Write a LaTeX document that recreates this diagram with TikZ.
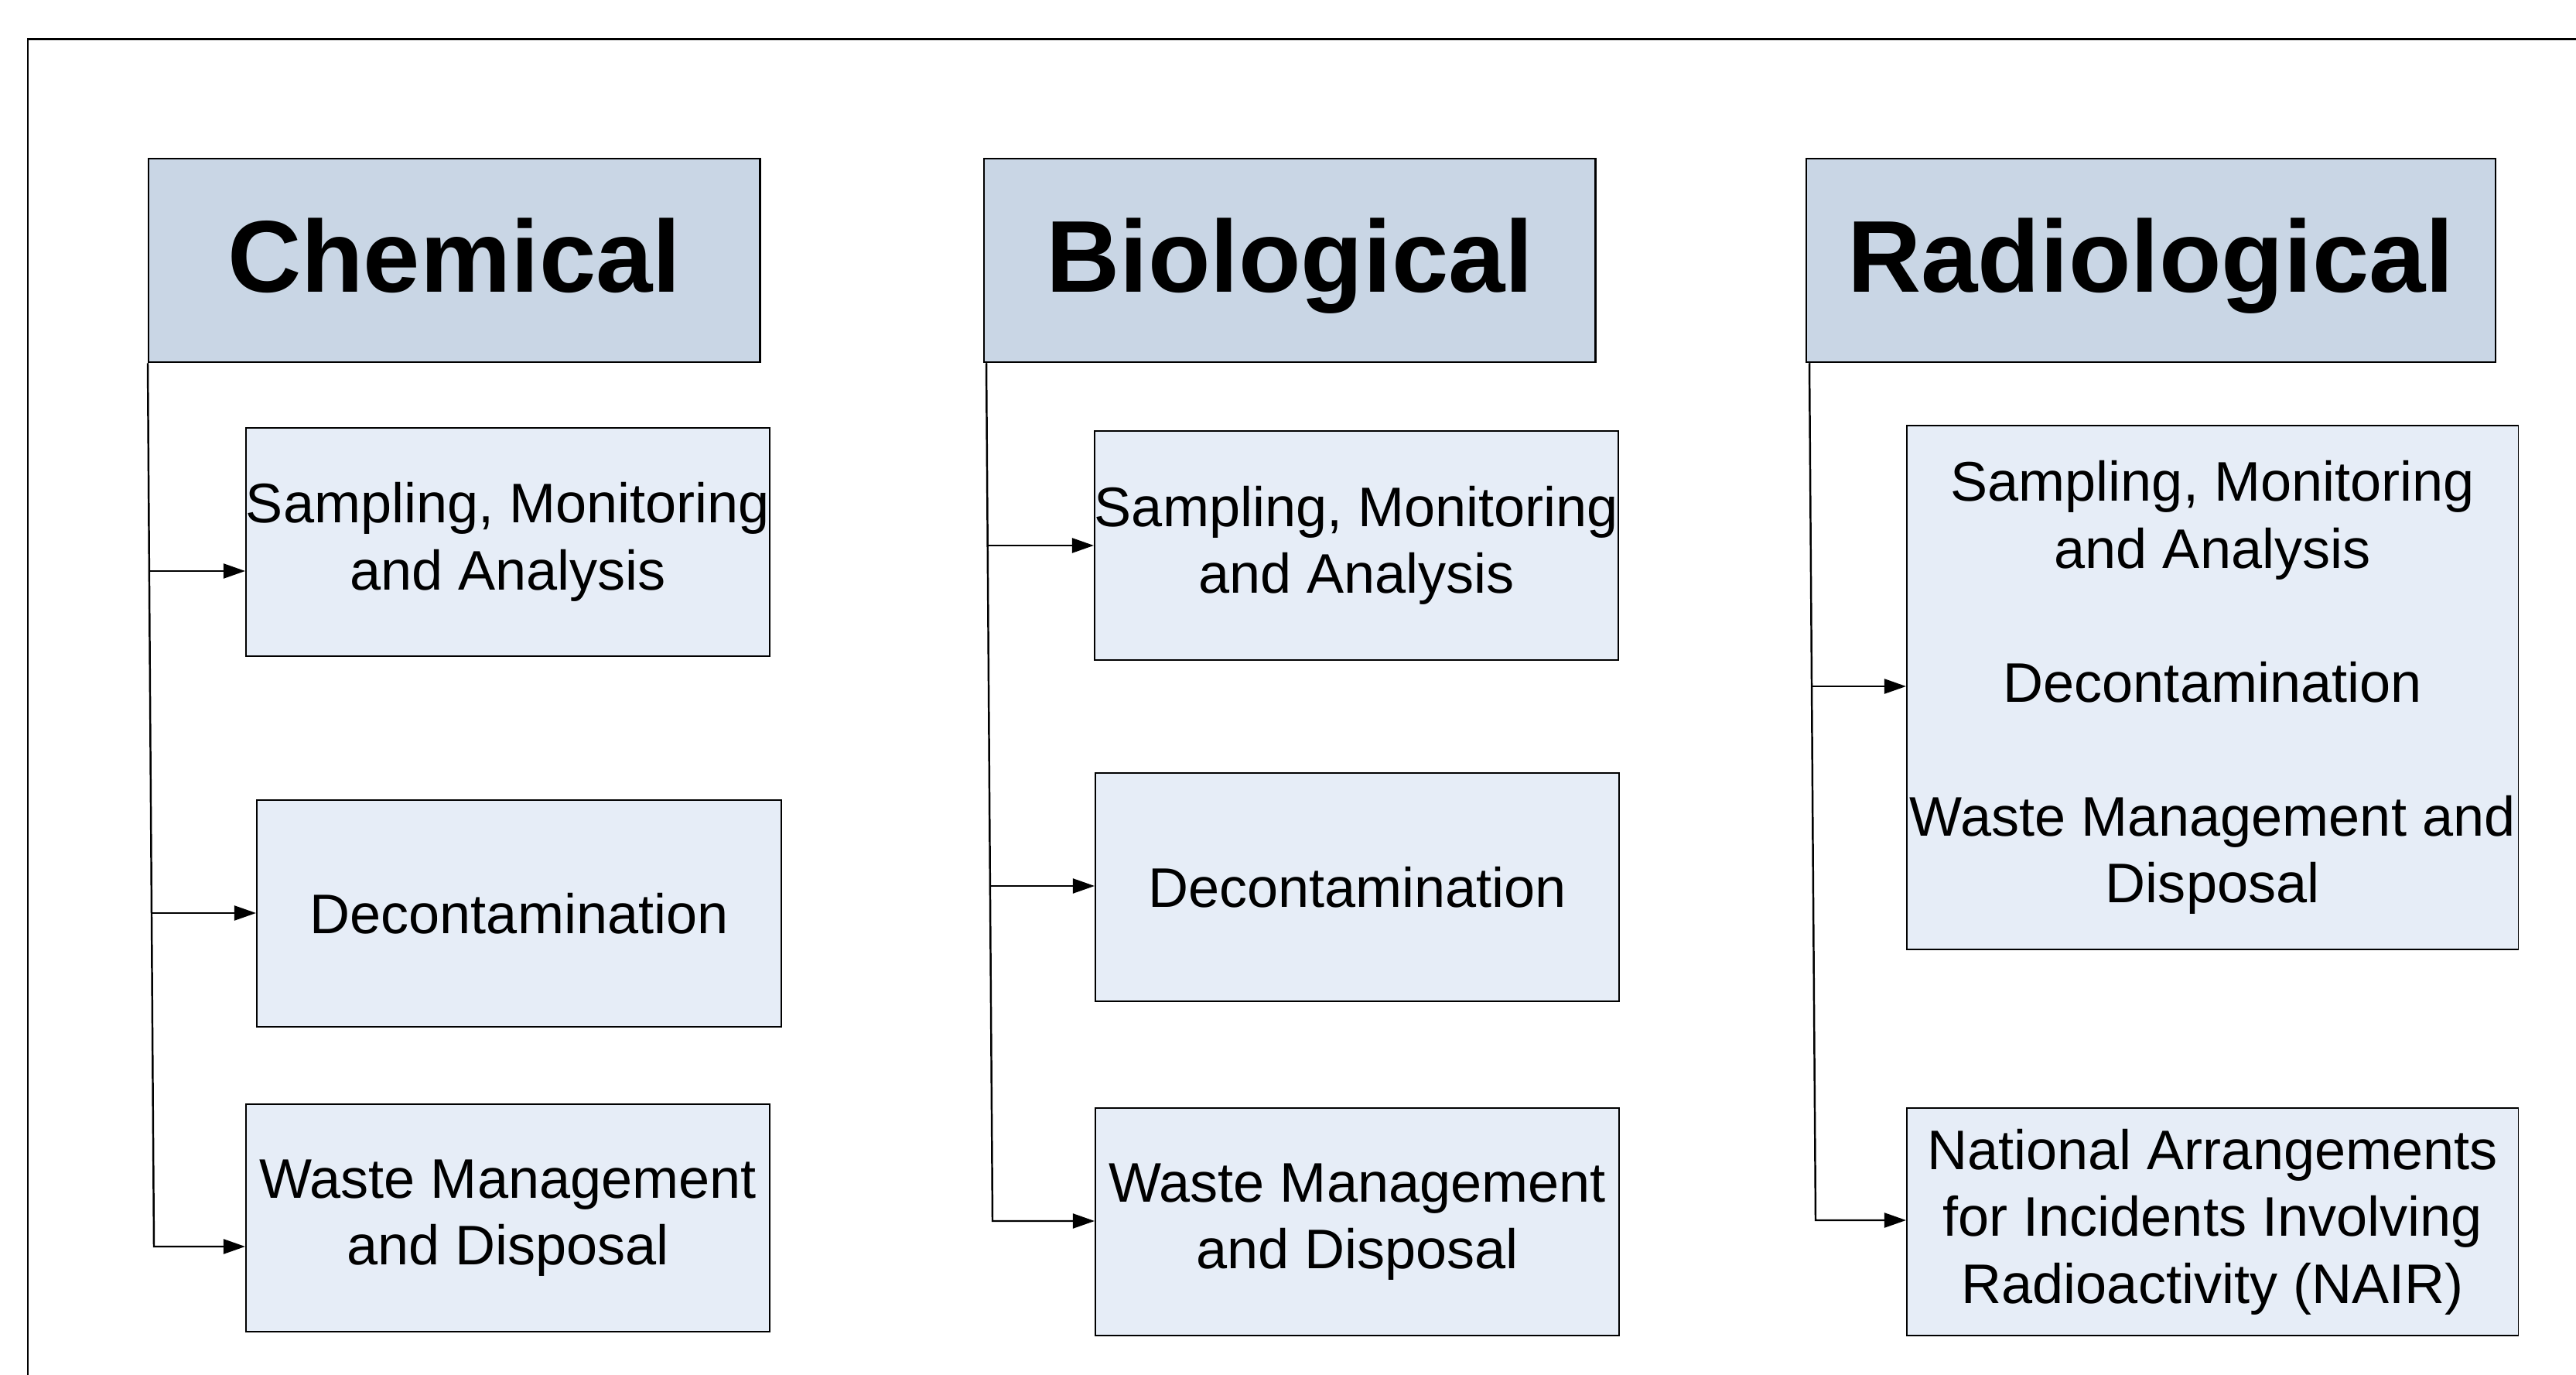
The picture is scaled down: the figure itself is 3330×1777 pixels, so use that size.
\documentclass[tikz,border=0pt]{standalone}
\usepackage{fontspec}
\setmainfont{Liberation Sans}
\usetikzlibrary{arrows.meta,calc}
\definecolor{hdrfill}{RGB}{201,214,229}
\definecolor{boxfill}{RGB}{230,237,247}
\begin{document}
\begin{tikzpicture}[x=0.01cm,y=-0.01cm,
  hdr/.style={draw=black, line width=0.6pt, fill=hdrfill, inner sep=0pt, anchor=north west,
    minimum height=2.63cm, text height=0.92cm, text depth=0.10cm,
    font=\fontsize{37.5pt}{45pt}\selectfont\bfseries},
  sub/.style={draw=black, line width=0.5pt, fill=boxfill, inner sep=0pt, anchor=north west,
    align=center, font=\fontsize{20.5pt}{24.6pt}\selectfont},
  conn/.style={line width=0.7pt},
  arr/.style={conn, -{Triangle[length=8pt,width=5.4pt]}},
  frameline/.style={line width=0.85pt}]
\useasboundingbox (0,0) rectangle (3330,1777);
\draw[frameline] (36,1777) -- (36,51) -- (3330,51);

% headers
\node[hdr, minimum width=7.90cm] (chem) at (191,204) {Chemical};
\node[hdr, minimum width=7.90cm] (bio) at (1271,204) {Biological};
\node[hdr, minimum width=8.90cm] (rad) at (2334,204) {Radiological};

% chemical column
\node[sub, minimum width=6.77cm, minimum height=2.95cm] (cs) at (317,552) {Sampling, Monitoring\\and Analysis};
\node[sub, minimum width=6.78cm, minimum height=2.93cm] (cd) at (331,1033) {Decontamination};
\node[sub, minimum width=6.77cm, minimum height=2.94cm] (cw) at (317,1426) {Waste Management\\and Disposal};

% biological column
\node[sub, minimum width=6.76cm, minimum height=2.96cm] (bs) at (1414,556) {Sampling, Monitoring\\and Analysis};
\node[sub, minimum width=6.77cm, minimum height=2.95cm] (bd) at (1415,998) {Decontamination};
\node[sub, minimum width=6.77cm, minimum height=2.94cm] (bw) at (1415,1431) {Waste Management\\and Disposal};

% radiological column
\node[sub, minimum width=7.90cm, minimum height=6.77cm] (rb) at (2464,549)
  {Sampling, Monitoring\\and Analysis\\[24.6pt]Decontamination\\[24.6pt]Waste Management and\\Disposal};
\node[sub, minimum width=7.90cm, minimum height=2.94cm] (rn) at (2464,1431)
  {National Arrangements\\for Incidents Involving\\Radioactivity (NAIR)};

% chemical connectors
\coordinate (cB) at (199,1611);
\coordinate (c1) at (193,738);
\coordinate (c2) at (196,1180);
\draw[arr] (chem.south west) -- (cB) -- (cB -| cw.west);
\draw[arr] (c1) -- (c1 -| cs.west);
\draw[arr] (c2) -- (c2 -| cd.west);

% biological connectors
\coordinate (bT) at ($(bio.south west)+(4,0)$);
\coordinate (bB) at (1283,1578);
\coordinate (b1) at (1277,705);
\coordinate (b2) at (1280,1145);
\draw[arr] (bT) -- (bB) -- (bB -| bw.west);
\draw[arr] (b1) -- (b1 -| bs.west);
\draw[arr] (b2) -- (b2 -| bd.west);

% radiological connectors
\coordinate (rT) at ($(rad.south west)+(5,0)$);
\coordinate (rB) at (2347,1577);
\coordinate (r1) at (2342,887);
\draw[arr] (rT) -- (rB) -- (rB -| rn.west);
\draw[arr] (r1) -- (r1 -| rb.west);
\end{tikzpicture}
\end{document}
